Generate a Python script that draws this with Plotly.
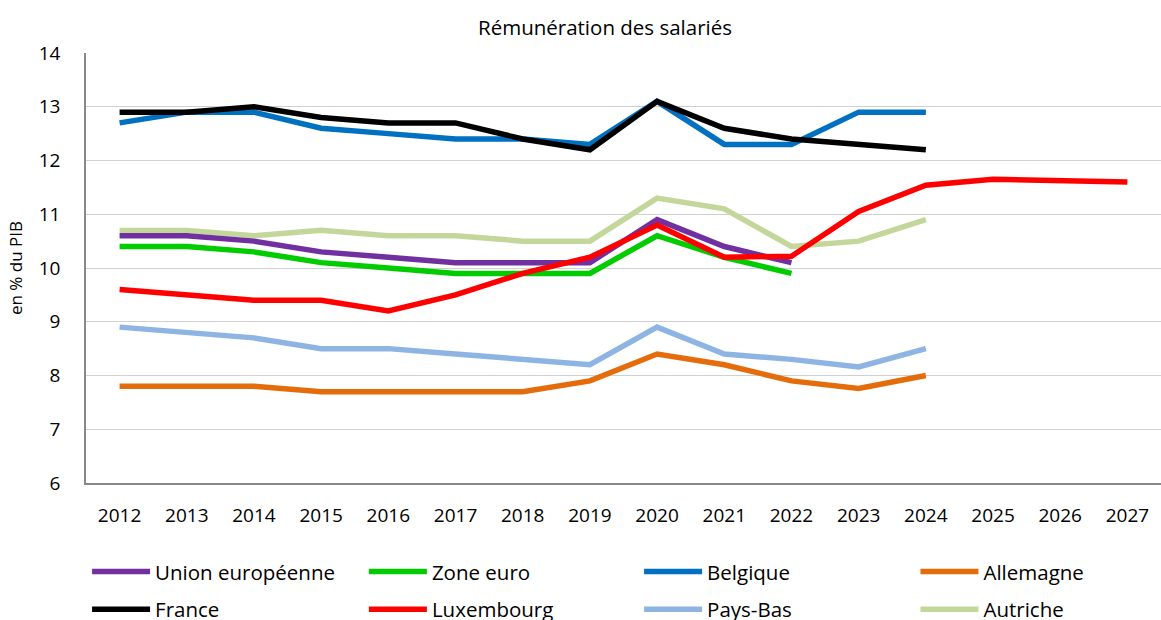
import plotly.graph_objects as go

years = list(range(2012, 2028))

union_europeenne = [10.6, 10.6, 10.5, 10.3, 10.2, 10.1, 10.1, 10.1, 10.9, 10.4, 10.1,
                    None, None, None, None, None]
zone_euro = [10.4, 10.4, 10.3, 10.1, 10.0, 9.9, 9.9, 9.9, 10.6, 10.2, 9.9,
             None, None, None, None, None]
belgique = [12.7, 12.9, 12.9, 12.6, 12.5, 12.4, 12.4, 12.3, 13.1, 12.3, 12.3, 12.9, 12.9,
            None, None, None]
allemagne = [7.8, 7.8, 7.8, 7.7, 7.7, 7.7, 7.7, 7.9, 8.4, 8.2, 7.9, 7.76, 8.0,
             None, None, None]
france = [12.9, 12.9, 13.0, 12.8, 12.7, 12.7, 12.4, 12.2, 13.1, 12.6, 12.4, 12.3, 12.2,
          None, None, None]
luxembourg = [9.6, 9.5, 9.4, 9.4, 9.2, 9.5, 9.9, 10.2, 10.8, 10.2, 10.22, 11.05, 11.54,
              11.65, 11.63, 11.6]
pays_bas = [8.9, 8.8, 8.7, 8.5, 8.5, 8.4, 8.3, 8.2, 8.9, 8.4, 8.3, 8.16, 8.5,
            None, None, None]
autriche = [10.7, 10.7, 10.6, 10.7, 10.6, 10.6, 10.5, 10.5, 11.3, 11.1, 10.4, 10.5, 10.9,
            None, None, None]

# (name, values, colour, legend column)
series = [
    ("Union européenne", union_europeenne, "#7030A0", "legend"),
    ("France", france, "#000000", "legend"),
    ("Zone euro", zone_euro, "#00CC00", "legend2"),
    ("Luxembourg", luxembourg, "#FF0000", "legend2"),
    ("Belgique", belgique, "#0070C0", "legend3"),
    ("Pays-Bas", pays_bas, "#8DB4E2", "legend3"),
    ("Allemagne", allemagne, "#E46C0A", "legend4"),
    ("Autriche", autriche, "#C4D79B", "legend4"),
]

# drawing order (later on top)
draw_order = ["Pays-Bas", "Allemagne", "Autriche", "Union européenne", "Zone euro",
              "Luxembourg", "Belgique", "France"]

FONT = "Open Sans"

fig = go.Figure()
lookup = {s[0]: s for s in series}
names = [s[0] for s in series]
for name in draw_order:
    _, vals, col, leg = lookup[name]
    fig.add_trace(go.Scatter(
        x=years, y=vals, name=name, mode="lines",
        line=dict(color=col, width=5.5),
        legend=leg, legendgroup=name,
        legendrank=names.index(name),
        hoverinfo="skip",
    ))

legend_common = dict(
    orientation="v", xanchor="left", yanchor="top", y=-0.16,
    font=dict(family=FONT, size=20.5, color="#000000"),
    bgcolor="rgba(0,0,0,0)", tracegroupgap=8, itemwidth=58,
    traceorder="grouped",
)

fig.update_layout(
    width=1161, height=620,
    margin=dict(l=86, r=0, t=53, b=137, autoexpand=False),
    paper_bgcolor="white", plot_bgcolor="white",
    title=dict(text="Rémunération des salariés", x=605 / 1161, xanchor="center",
               y=0.955, yanchor="middle",
               font=dict(family=FONT, size=20.5, color="#000000")),
    xaxis=dict(
        range=[2011.5, 2027.5], tickmode="array", tickvals=years,
        ticktext=[str(y) for y in years], showgrid=False,
        showline=True, linecolor="#888888", linewidth=1.5,
        ticks="", ticklabelstandoff=14,
        tickfont=dict(family=FONT, size=19, color="#000000"),
    ),
    yaxis=dict(
        range=[6, 14], dtick=1, showgrid=True, gridcolor="#D0D0D0", gridwidth=1.2,
        showline=True, linecolor="#888888", linewidth=1.5, zeroline=False,
        ticks="", ticklabelstandoff=20,
        tickfont=dict(family=FONT, size=19, color="#000000"),
        title=dict(text="en % du PIB", standoff=12,
                   font=dict(family=FONT, size=17, color="#000000")),
    ),
    legend=dict(legend_common, x=0.001),
    legend2=dict(legend_common, x=0.2585),
    legend3=dict(legend_common, x=0.5145),
    legend4=dict(legend_common, x=0.7716),
    showlegend=True,
)

fig.write_html("out.html")
